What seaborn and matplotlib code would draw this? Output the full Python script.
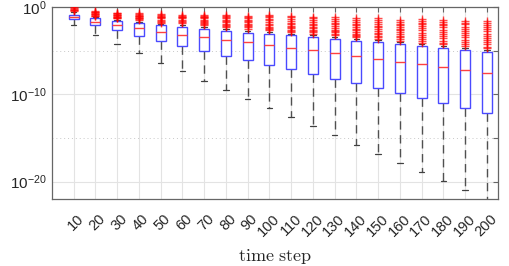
import numpy as np
import pandas as pd
import matplotlib
matplotlib.use("Agg")
import matplotlib.pyplot as plt
import matplotlib.transforms as mtrans
import seaborn as sns
from matplotlib.ticker import FixedLocator, NullFormatter

# ---- data (log10 exponents) ----
steps = [10, 20, 30, 40, 50, 60, 70, 80, 90, 100,
         110, 120, 130, 140, 150, 160, 170, 180, 190, 200]
q3 = [-0.88, -1.29, -1.60, -1.86, -2.06, -2.29, -2.55, -2.78, -2.97, -3.09,
      -3.23, -3.47, -3.66, -3.85, -4.04, -4.27, -4.50, -4.72, -4.95, -5.18]
med = [-1.14, -1.75, -2.06, -2.43, -2.86, -3.20, -3.50, -3.81, -4.04, -4.34,
       -4.69, -4.99, -5.29, -5.64, -5.98, -6.32, -6.59, -6.93, -7.24, -7.58]
q1 = [-1.37, -2.09, -2.70, -3.28, -3.85, -4.46, -5.03, -5.60, -6.13, -6.66,
      -7.16, -7.70, -8.23, -8.72, -9.29, -9.87, -10.48, -11.00, -11.58, -12.10]
wlo = [-2.06, -3.20, -4.23, -5.30, -6.37, -7.39, -8.46, -9.49, -10.55, -11.58,
       -12.60, -13.68, -14.70, -15.77, -16.80, -17.87, -18.90, -19.96, -20.95, -22.60]
whi = [-0.62, -1.15, -1.45, -1.68, -1.92, -2.12, -2.35, -2.55, -2.75, -2.90,
       -3.05, -3.25, -3.45, -3.65, -3.82, -4.05, -4.28, -4.50, -4.72, -4.95]
outliers = [
    [-0.05, -0.12, -0.20, -0.30, -0.40, -0.50],
    [-0.45, -0.55, -0.62, -0.70, -0.78, -0.85, -0.92, -1.00, -1.05],
    [-0.65, -0.74, -0.82, -0.90, -0.97, -1.04, -1.10, -1.17, -1.24, -1.30],
    [-0.72, -0.82, -0.92, -1.00, -1.08, -1.16, -1.24, -1.32, -1.40, -1.49],
    [-0.80, -0.90, -1.00, -1.10, -1.20, -1.30, -1.45, -1.60, -1.72, -1.82],
    [-0.91, -1.00, -1.10, -1.20, -1.30, -1.50, -1.62, -1.74, -1.86],
    [-0.91, -1.00, -1.10, -1.20, -1.30, -1.50, -1.62, -1.75, -1.88, -2.00, -2.10],
    [-0.91, -1.02, -1.15, -1.30, -1.45, -1.60, -1.75, -1.90, -2.05, -2.20, -2.30],
    [-1.03, -1.15, -1.30, -1.45, -1.60, -1.75, -1.90, -2.05, -2.20, -2.35, -2.50],
    [-0.91, -1.05, -1.20, -1.35, -1.55, -1.75, -1.95, -2.10, -2.25, -2.40, -2.55, -2.70],
    [-1.03, -1.20, -1.40, -1.60, -1.80, -2.00, -2.15, -2.30, -2.45, -2.60, -2.75, -2.90],
    [-1.11, -1.30, -1.50, -1.70, -1.90, -2.10, -2.30, -2.45, -2.60, -2.75, -2.90, -3.05],
    [-1.18, -1.38, -1.60, -1.80, -2.00, -2.20, -2.40, -2.60, -2.75, -2.90, -3.05, -3.20],
    [-1.29, -1.50, -1.70, -1.90, -2.10, -2.30, -2.50, -2.70, -2.90, -3.05, -3.20, -3.35, -3.50],
    [-1.29, -1.50, -1.72, -1.95, -2.15, -2.35, -2.55, -2.75, -2.95, -3.15, -3.35, -3.50, -3.65],
    [-1.49, -1.70, -1.90, -2.10, -2.30, -2.50, -2.70, -2.90, -3.10, -3.30, -3.50, -3.70, -3.88],
    [-1.41, -1.60, -1.80, -2.00, -2.20, -2.45, -2.70, -2.95, -3.20, -3.45, -3.70, -3.90, -4.10],
    [-1.49, -1.70, -1.90, -2.10, -2.35, -2.60, -2.85, -3.10, -3.35, -3.60, -3.85, -4.10, -4.30],
    [-1.57, -1.80, -2.00, -2.25, -2.50, -2.75, -3.00, -3.25, -3.50, -3.75, -4.00, -4.25, -4.50],
    [-1.57, -1.80, -2.05, -2.30, -2.55, -2.80, -3.05, -3.30, -3.55, -3.80, -4.05, -4.30, -4.55, -4.75],
]
xlabel = "time step"
ytick_exps = [-20, -10, 0]
yminor_exps = [-15, -5]

# ---- build tables ----
labels = [str(s) for s in steps]
box_rows = []
for i, lab in enumerate(labels):
    for v in (wlo[i], q1[i], med[i], q3[i], whi[i]):
        box_rows.append((lab, 10.0 ** v))
box_df = pd.DataFrame(box_rows, columns=["step", "value"])
out_df = pd.DataFrame([(lab, 10.0 ** v) for lab, o in zip(labels, outliers) for v in o],
                      columns=["step", "value"])

sns.set_style("white")
plt.rcParams["font.family"] = ["Liberation Sans", "DejaVu Sans"]
plt.rcParams["mathtext.fontset"] = "cm"

fig = plt.figure(figsize=(5.09, 2.66), dpi=100)
ax = fig.add_axes([0.102, 0.252, 0.876, 0.722])

box_blue = "#4a4aff"
sns.boxplot(data=box_df, x="step", y="value", order=labels, log_scale=True,
            whis=(0, 100), width=0.46, color="white", linecolor=box_blue,
            linewidth=1.0, fliersize=0, ax=ax,
            boxprops=dict(edgecolor=box_blue, facecolor="white", zorder=3),
            medianprops=dict(color="#ff4040", linewidth=1.0, zorder=4),
            whiskerprops=dict(color="#505050", linestyle=(0, (6, 4)), linewidth=1.0),
            capprops=dict(color="#404040", linewidth=0.9),
            capwidths=0.25)

sns.stripplot(data=out_df, x="step", y="value", order=labels, jitter=False,
              marker="+", color="red", size=6, linewidth=1.0, alpha=0.7,
              ax=ax, zorder=5)

ax.set_yscale("log")
ax.set_ylim(10.0 ** -22, 1.0)
ax.set_xlim(-1.0, 19.5)

ax.yaxis.set_major_locator(FixedLocator([10.0 ** e for e in ytick_exps]))
ax.yaxis.set_minor_locator(FixedLocator([10.0 ** e for e in yminor_exps]))
ax.yaxis.set_minor_formatter(NullFormatter())
ax.set_yticklabels([r"$\mathregular{10^{%d}}$" % e for e in ytick_exps], fontsize=11)

ax.set_xticks(range(len(labels)))
ax.set_xticklabels(labels, rotation=45, ha="right", va="top",
                   rotation_mode="anchor", fontsize=10.5)

ax.set_xlabel(r"$\mathrm{" + xlabel.replace(" ", r"\ ") + "}$", fontsize=13, labelpad=6)
ax.set_ylabel("")

ax.grid(True, which="major", axis="both", color="#e3e3e3", linewidth=0.8, linestyle="-", zorder=0)
ax.grid(True, which="minor", axis="y", color="#c8c8c8", linewidth=0.7, linestyle=(0, (1, 3)), zorder=0)
ax.set_axisbelow(True)

for sp in ax.spines.values():
    sp.set_visible(True)
    sp.set_color("#666666")
    sp.set_linewidth(0.9)
ax.tick_params(which="both", direction="in", top=True, right=True, color="#666666",
               labelcolor="#262626", length=3.5, width=0.8)
ax.tick_params(axis="x", pad=9)
ax.tick_params(axis="y", pad=4)
offset = mtrans.ScaledTranslation(3 / 100, 0, fig.dpi_scale_trans)
for t in ax.get_xticklabels():
    t.set_transform(t.get_transform() + offset)

fig.savefig("out.png", dpi=100)
